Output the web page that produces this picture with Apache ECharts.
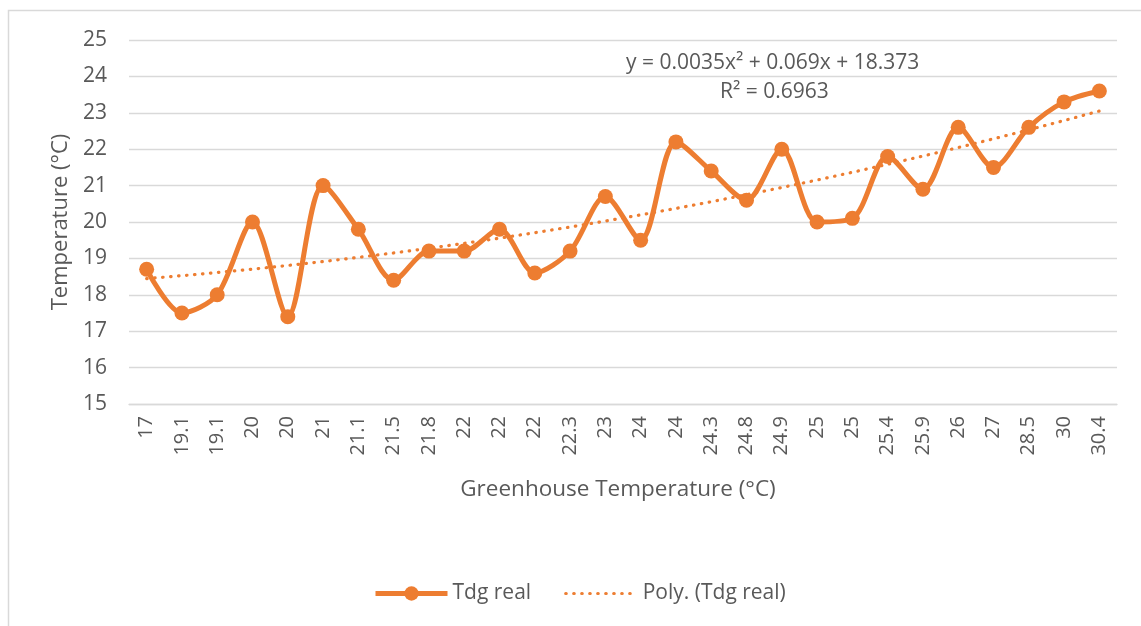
<!DOCTYPE html>
<html style="height: 100%">
<head>
    <meta charset="utf-8">
</head>
<body style="height: 100%; margin: 0; background: #fff">
    <div id="container" style="width: 1141px; height: 626px"></div>
    <script type="text/javascript" src="https://cdn.jsdelivr.net/npm/echarts@6/dist/echarts.min.js"></script>
    <script type="text/javascript">
        // greenhouse temperature (x categories) and measured Tdg
        var categories = ['17', '19.1', '19.1', '20', '20', '21', '21.1', '21.5', '21.8', '22', '22', '22', '22.3', '23',
            '24', '24', '24.3', '24.8', '24.9', '25', '25', '25.4', '25.9', '26', '27', '28.5', '30', '30.4'];
        var tdgReal = [18.7, 17.5, 18.0, 20.0, 17.4, 21.0, 19.8, 18.4, 19.2, 19.2, 19.8, 18.6, 19.2, 20.7,
            19.5, 22.2, 21.4, 20.6, 22.0, 20.0, 20.1, 21.8, 20.9, 22.6, 21.5, 22.6, 23.3, 23.6];
        // excel poly trendline: y = c2*x^2 + c1*x + c0, x = 1..n
        var trendCoef = [18.373, 0.069, 0.0035];
        var eqLines = ['y = 0.0035x² + 0.069x + 18.373', 'R² = 0.6963'];

        var trend = categories.map(function (c, i) {
            var x = i + 1;
            return +(trendCoef[0] + trendCoef[1] * x + trendCoef[2] * x * x).toFixed(4);
        });

        var txt = '#595959';
        var orange = '#ED7D31';
        var font = 'Open Sans';

        var myChart = echarts.init(document.getElementById('container'));

        var option = {
            backgroundColor: '#fff',
            animation: false,
            textStyle: { fontFamily: font, color: txt },
            grid: { left: 129, right: 24, top: 40, bottom: 222 },
            legend: {
                top: 578,
                left: 368,
                itemWidth: 72,
                itemHeight: 18,
                itemGap: 33,
                textStyle: { fontSize: 21, color: txt, fontFamily: font },
                data: [
                    { name: 'Tdg real', lineStyle: { width: 5 } },
                    { name: 'Poly. (Tdg real)', itemStyle: { opacity: 0 }, lineStyle: { width: 3.2, type: [0.5, 7.5], cap: 'round' } }
                ]
            },
            xAxis: {
                type: 'category',
                data: categories,
                boundaryGap: true,
                name: 'Greenhouse Temperature (°C)',
                nameLocation: 'middle',
                nameGap: 74,
                nameTextStyle: { fontSize: 22.5, color: txt, padding: [0, 10, 0, 0] },
                axisLine: { lineStyle: { color: '#d9d9d9', width: 1.3 } },
                axisTick: { show: false },
                axisLabel: { rotate: 90, interval: 0, fontSize: 20, color: txt, margin: 12 }
            },
            yAxis: {
                type: 'value',
                min: 15,
                max: 25,
                interval: 1,
                name: 'Temperature (°C)',
                nameLocation: 'middle',
                nameGap: 56,
                nameRotate: 90,
                nameTextStyle: { fontSize: 22, color: txt },
                axisLine: { show: false },
                axisTick: { show: false },
                axisLabel: { fontSize: 21, color: txt, margin: 22 },
                splitLine: { lineStyle: { color: '#d9d9d9', width: 1.3 } }
            },
            graphic: [
                {
                    type: 'rect',
                    silent: true,
                    shape: { x: 8.5, y: 10.5, width: 1300, height: 800 },
                    style: { fill: 'none', stroke: '#d9d9d9', lineWidth: 1.5 }
                },
                {
                    type: 'text',
                    left: 626, top: 53,
                    style: { text: eqLines[0], fill: txt, font: '21px "Open Sans"' }
                },
                {
                    type: 'text',
                    left: 720, top: 82,
                    style: { text: eqLines[1], fill: txt, font: '21px "Open Sans"' }
                }
            ],
            series: [
                {
                    name: 'Tdg real',
                    type: 'line',
                    data: tdgReal,
                    smooth: 0.3,
                    symbol: 'circle',
                    symbolSize: 15,
                    z: 3,
                    itemStyle: { color: orange },
                    lineStyle: { color: orange, width: 5 }
                },
                {
                    name: 'Poly. (Tdg real)',
                    type: 'line',
                    data: trend,
                    symbol: 'none',
                    z: 2,
                    itemStyle: { color: orange },
                    lineStyle: { color: orange, width: 3.2, type: [0.5, 7.5], cap: 'round' }
                }
            ]
        };

        myChart.setOption(option, true);
    </script>
</body>
</html>
